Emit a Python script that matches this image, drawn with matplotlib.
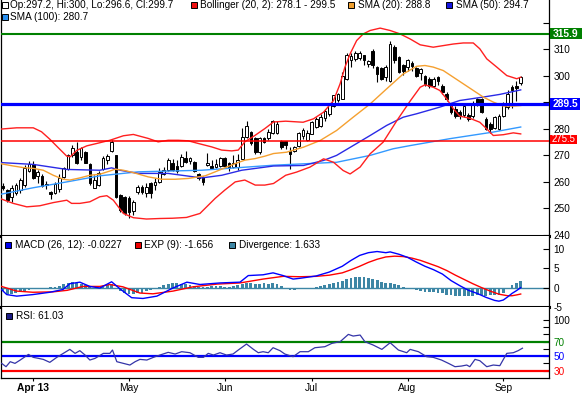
import matplotlib
matplotlib.use('Agg')
import matplotlib.pyplot as plt
from matplotlib.patches import Rectangle
import numpy as np

plt.rcParams['font.family'] = ['Liberation Sans', 'DejaVu Sans']
plt.rcParams['axes.unicode_minus'] = False

# ---------------- data (trading-day index 0 = 2013-03-20) ----------------
opens = [258.4, 256.9, 254.4, 256.0, 256.9, 258.8, 264.1, 266.6, 262.3, 262.3,
         259.2, 256.1, 256.0, 257.5, 261.9, 264.7, 270.1, 271.3, 269.5, 271.1,
         266.9, 257.8, 258.8, 264.7, 268.2, 271.6, 270.1, 255.0, 254.4, 254.1,
         249.0, 256.3, 258.2, 256.0, 259.4, 258.8, 260.0, 262.8, 264.4, 267.3,
         266.0, 266.0, 269.1, 267.8, 267.6, 262.8, 261.9, 266.3, 266.0, 265.5,
         266.0, 269.1, 267.3, 265.7, 265.7, 268.8, 277.0, 278.9, 276.6, 271.3,
         276.4, 276.4, 278.4, 278.4, 275.4, 275.4, 271.8, 271.8, 273.7, 277.5,
         275.9, 278.1, 280.6, 280.9, 284.1, 285.7, 288.8, 290.7, 291.3, 298.9,
         305.8, 306.4, 306.6, 307.7, 304.5, 309.2, 303.2, 302.9, 299.5, 298.2,
         310.8, 307.0, 303.9, 303.3, 304.9, 302.9, 301.0, 300.1, 298.9, 296.3,
         299.5, 296.3, 293.2, 288.8, 287.6, 286.3, 285.3, 285.3, 284.8, 291.1,
         291.3, 283.8, 281.9, 280.3, 280.0, 284.8, 288.2, 295.7, 296.0, 297.2]
highs = [259.5, 257.5, 258.8, 259.5, 261.5, 266.3, 267.8, 267.8, 264.4, 262.8,
         260.3, 256.5, 259.8, 262.8, 265.7, 270.4, 273.8, 275.1, 273.2, 271.6,
         267.0, 262.5, 264.1, 269.9, 270.7, 275.7, 270.1, 255.5, 254.8, 254.8,
         253.1, 258.8, 258.8, 259.4, 260.0, 261.3, 265.1, 265.7, 269.1, 268.6,
         268.2, 270.4, 271.8, 269.5, 267.8, 263.2, 262.3, 271.0, 268.2, 268.8,
         269.5, 269.5, 267.6, 270.1, 270.7, 280.4, 282.9, 279.1, 277.0, 277.0,
         277.0, 280.0, 283.4, 283.1, 275.9, 275.6, 273.1, 273.7, 278.7, 280.3,
         279.4, 282.9, 284.4, 285.7, 287.5, 289.7, 292.9, 293.4, 301.4, 308.5,
         308.5, 309.2, 309.5, 308.0, 306.0, 310.0, 303.8, 303.3, 304.0, 313.3,
         311.5, 307.5, 304.5, 306.5, 305.5, 303.5, 303.0, 300.5, 299.5, 299.5,
         300.0, 297.0, 294.0, 289.5, 288.5, 287.0, 289.5, 286.0, 290.5, 291.8,
         291.8, 284.5, 282.5, 285.0, 285.5, 290.0, 294.5, 296.5, 298.0, 300.0]
lows = [256.8, 252.5, 252.5, 255.0, 256.0, 258.0, 263.8, 261.0, 259.4, 258.0,
        257.5, 253.5, 255.5, 256.3, 261.3, 264.4, 269.5, 266.9, 268.2, 267.0,
        258.8, 257.6, 258.6, 264.4, 266.9, 271.3, 253.8, 248.8, 247.5, 246.2,
        247.7, 255.6, 255.6, 254.4, 253.8, 257.1, 259.4, 262.5, 264.1, 264.1,
        263.5, 265.7, 267.3, 266.9, 263.8, 260.7, 258.8, 266.0, 264.8, 265.3,
        265.7, 265.1, 264.1, 265.1, 264.4, 268.6, 276.4, 274.1, 270.7, 270.7,
        274.5, 275.7, 278.1, 278.1, 272.5, 272.5, 265.0, 271.2, 273.3, 276.2,
        275.6, 277.9, 280.4, 280.6, 283.1, 285.0, 288.4, 290.1, 291.1, 298.5,
        303.5, 305.7, 306.0, 304.0, 303.5, 303.0, 297.5, 298.3, 298.0, 297.5,
        305.0, 301.0, 300.5, 302.0, 302.0, 299.5, 298.5, 296.3, 295.5, 295.7,
        296.5, 293.0, 290.5, 285.5, 284.0, 283.8, 284.5, 283.0, 284.0, 288.5,
        286.0, 279.5, 278.5, 279.8, 279.5, 284.5, 287.5, 288.0, 290.5, 296.6]
closes = [257.6, 253.1, 257.8, 258.8, 260.7, 265.3, 266.6, 261.5, 263.8, 258.5,
          259.0, 255.6, 259.1, 261.5, 265.1, 270.1, 272.8, 267.3, 272.6, 267.3,
          259.7, 260.7, 263.2, 269.1, 269.7, 274.9, 254.4, 249.4, 248.1, 248.5,
          252.5, 258.2, 256.3, 257.9, 256.0, 260.0, 263.8, 264.4, 268.4, 264.4,
          264.0, 269.5, 267.6, 269.2, 264.1, 261.3, 260.0, 267.3, 265.1, 266.9,
          269.1, 266.0, 265.1, 267.3, 268.4, 277.0, 281.1, 274.5, 271.3, 276.4,
          275.1, 278.9, 282.9, 281.9, 273.1, 274.0, 270.6, 273.1, 278.4, 279.4,
          278.4, 282.5, 283.8, 284.4, 286.7, 289.2, 292.6, 293.2, 300.1, 307.7,
          307.4, 308.7, 308.7, 305.8, 305.5, 303.9, 300.7, 298.9, 303.3, 312.0,
          305.8, 301.6, 302.0, 305.8, 303.6, 300.1, 302.5, 297.0, 296.3, 298.9,
          298.2, 293.8, 291.3, 286.3, 285.0, 284.8, 288.6, 283.8, 289.4, 289.1,
          286.3, 280.0, 279.8, 284.4, 284.8, 289.1, 293.2, 294.8, 295.3, 299.7]

bb_up_x = [-0.6, 3.2, 7.0, 8.9, 10.8, 12.8, 14.7, 15.5, 17.0, 19.3, 21.6, 24.6, 27.7, 30.0,
           33.4, 35.7, 38.0, 40.3, 42.6, 44.9, 48.0, 50.3, 52.6, 54.1, 55.6, 58.0, 60.2, 62.2,
           65.0, 69.0, 71.4, 73.7, 76.0, 77.5, 78.6, 79.8, 81.3, 82.8, 84.4, 86.7, 89.0, 91.3,
           93.6, 95.9, 98.9, 101.2, 103.5, 105.8, 108.1, 109.6, 111.2, 113.5, 115.8, 118.1, 119]
bb_up_y = [279.9, 280.4, 280.4, 278.9, 276.1, 272.8, 269.7, 269.5, 271.9, 273.6, 274.5, 275.7, 277.4, 277.9,
           276.4, 275.1, 275.7, 275.7, 275.5, 274.5, 273.2, 272.0, 271.7, 272.0, 275.1, 277.6, 280.1, 282.6,
           282.9, 282.5, 283.8, 286.3, 290.7, 297.0, 303.2, 308.3, 313.3, 315.8, 317.1, 318.0, 317.1, 315.8,
           313.9, 311.7, 310.8, 311.4, 312.0, 312.4, 312.4, 310.2, 306.4, 303.3, 300.1, 298.9, 299.5]
bb_lo_x = [-0.6, 2.4, 5.5, 8.5, 11.6, 14.7, 15.8, 17.7, 20.0, 22.3, 23.9, 25.4, 27.7, 30.0, 33.0,
           36.1, 39.0, 42.2, 45.3, 48.8, 51.0, 53.4, 55.6, 58.0, 60.2, 62.2, 65.0, 67.5, 70.6, 73.7,
           76.0, 78.2, 79.8, 82.1, 84.4, 87.4, 90.5, 93.6, 95.9, 97.0, 98.9, 100.4, 102.0, 103.5,
           105.0, 107.3, 109.6, 111.2, 112.7, 115.0, 117.3, 119]
bb_lo_y = [253.7, 251.9, 250.6, 251.0, 252.2, 253.1, 251.9, 251.9, 252.5, 254.4, 254.8, 253.1, 248.1, 246.5, 246.0,
           246.2, 246.3, 246.6, 248.1, 253.8, 256.9, 260.0, 260.7, 258.8, 258.8, 259.4, 262.5, 263.7, 265.6, 268.7,
           267.4, 264.3, 263.0, 265.6, 270.6, 275.0, 283.0, 290.5, 295.7, 296.6, 295.7, 294.5, 291.3, 287.6,
           284.8, 284.0, 282.5, 280.0, 277.5, 277.8, 278.5, 278.1]
sma20_x = [-0.6, 2.4, 4.7, 7.0, 9.3, 11.6, 13.9, 15.4, 17.7, 20.0, 22.3, 24.6, 25.8, 27.7, 30.0,
           33.4, 36.5, 39.6, 42.6, 44.9, 46.5, 48.8, 51.0, 53.4, 55.6, 58.0, 60.2, 62.2, 65.2, 69.1,
           72.9, 76.7, 80.5, 84.4, 88.2, 92.0, 95.1, 97.0, 98.9, 101.2, 103.5, 105.8, 108.1, 110.4,
           112.7, 115.0, 117.3, 119]
sma20_y = [266.9, 266.0, 265.4, 265.1, 264.4, 262.5, 261.0, 260.7, 261.5, 262.5, 262.9, 264.1, 264.8, 264.4, 263.5,
           261.9, 261.0, 261.0, 261.3, 261.9, 262.3, 263.8, 265.3, 266.9, 268.2, 268.8, 269.7, 270.7, 271.2, 273.1,
           275.6, 279.4, 284.4, 289.4, 295.1, 300.7, 303.6, 303.9, 303.3, 302.0, 299.5, 297.0, 294.5, 292.0,
           290.1, 288.6, 288.6, 288.8]
sma50_x = [-0.6, 7.0, 14.7, 22.3, 25.0, 26.9, 31.1, 38.0, 45.7, 50.3, 54.9, 62.2, 69.1, 73.7, 76.7,
           80.5, 84.4, 88.2, 92.0, 95.1, 100.4, 105.0, 110.4, 114.2, 119]
sma50_y = [267.3, 266.6, 264.7, 264.4, 265.3, 264.4, 263.2, 263.2, 261.5, 262.5, 264.4, 266.0, 266.2, 268.1, 270.0,
           273.7, 277.5, 281.3, 284.4, 285.7, 288.2, 290.7, 292.0, 293.0, 294.7]
sma100_x = [-0.6, 7.0, 14.7, 22.3, 31.1, 45.7, 62.2, 76.7, 84.4, 89.7, 93.6, 102.7, 112.7, 119]
sma100_y = [255.3, 257.8, 260.0, 262.3, 263.8, 264.4, 266.3, 267.4, 270.0, 272.5, 273.7, 276.3, 278.8, 280.7]

macd_x = [-0.3, 0.9, 3.2, 6.9, 10.8, 13.8, 15.4, 17.7, 20.0, 22.3, 25.0, 26.9, 29.6, 32.2, 35.4, 39.1,
          42.3, 45.3, 49.9, 54.5, 56.4, 59.8, 62.1, 64.4, 66.7, 68.3, 72, 75, 78, 80, 82, 84, 86, 88,
          89, 91, 93, 95, 97, 99, 101, 103, 105, 107, 109, 111, 113, 114, 115, 116, 117, 118, 119]
macd_y = [-0.5, -1.8, -2.2, -1.8, -1.2, -0.5, 1.0, 1.4, 0.3, -0.1, 1.5, -0.3, -2.6, -2.8, -2.2, -0.1,
          1.4, 0.8, 1.2, 1.4, 3.1, 3.3, 3.8, 3.1, 2.2, 2.4, 3.0, 4.0, 5.5, 7.0, 8.3, 9.0, 9.3, 9.0,
          9.2, 8.6, 7.8, 6.6, 5.5, 4.6, 3.5, 1.8, 0.5, -0.7, -1.5, -2.5, -3.3, -3.5, -3.2, -2.4, -1.5, -0.8, -0.0227]
sig_x = [-0.3, 3.2, 6.9, 11.5, 14.8, 18.4, 22.3, 24.6, 27.6, 31.5, 34.5, 39.1, 43.7, 49.2, 54.5, 59.8,
         64.4, 68.3, 72, 75, 78, 80, 82, 84, 86, 88, 90, 92, 94, 96, 98, 100, 102, 104, 106, 108, 110,
         112, 114, 116, 117, 118, 119]
sig_y = [0.3, -0.9, -1.2, -1.1, -0.7, 0.3, 0.3, 0.8, 0.2, -1.4, -1.6, -0.9, 0.2, 0.9, 1.2, 2.2,
         2.9, 2.8, 2.9, 3.2, 3.8, 4.6, 5.5, 6.5, 7.3, 7.9, 8.1, 8.0, 7.6, 7.0, 6.2, 5.4, 4.4, 3.2, 2.1, 1.0, 0.0,
         -0.9, -1.7, -2.1, -2.1, -1.9, -1.656]
diverg = [-0.8, -1.6, -1.7, -1.5, -1.2, -0.8, -0.5, -0.3, -0.2, -0.1,
          0.0, 0.1, 0.2, 0.3, 0.8, 1.2, 1.4, 1.3, 1.0, 0.6,
          0.2, -0.2, -0.3, 0.1, 0.6, 0.8, -0.3, -1.0, -1.4, -1.6,
          -1.7, -1.5, -1.3, -1.0, -0.7, -0.4, 0.2, 0.6, 1.0, 1.3,
          1.2, 1.0, 0.8, 0.6, 0.4, 0.2, 0.1, 0.2, 0.3, 0.3,
          0.3, 0.2, 0.2, 0.3, 0.6, 1.0, 1.3, 1.1, 1.0, 1.0,
          1.1, 1.0, 1.1, 0.8, 0.3, -0.3, -0.6, -0.5, -0.4, -0.4,
          -0.2, 0.0, 0.1, 0.3, 0.6, 0.8, 1.1, 1.4, 1.7, 2.1,
          2.4, 2.7, 2.8, 2.7, 2.5, 2.3, 2.0, 1.5, 1.1, 1.2,
          0.8, 0.55, 0.2, 0.0, -0.4, -0.7, -1.0, -1.1, -1.2, -1.2,
          -1.4, -1.4, -1.8, -2.0, -2.1, -2.1, -2.2, -2.2, -2.1, -2.0,
          -2.0, -2.05, -2.0, -2.0, -1.8, -1.3, -0.3, 0.6, 1.1, 1.633]

rsi_x = [-0.26, 0.74, 1.7, 2.8, 4.0, 5.9, 7.0, 8.2, 9.3, 10.8, 12.4, 13.9, 15.4, 16.6, 17.7, 18.9,
         20.0, 21.2, 23.1, 24.6, 25.2, 26.2, 27.7, 29.2, 30.4, 31.5, 33.1, 34.6, 36.1, 38.0, 39.6,
         41.1, 43.0, 44.9, 46.1, 47.2, 48.4, 49.9, 51.4, 52.9, 54.1, 56.0, 57.6, 58.7, 59.8, 61.0,
         62.1, 63.7, 64.8, 66.7, 68.3, 70.2, 71.7, 74.0, 75.6, 77.5, 79.4, 80.5, 82.1, 83.2, 85.1,
         87.1, 89.0, 90.9, 92.8, 93.6, 95.5, 97.4, 98.9, 100.8, 102.4, 103.9, 105.4, 106.6, 107.3,
         108.5, 109.6, 111.2, 112.7, 114.2, 115.8, 117.3, 118.4, 119.4]
rsi_y = [40.1, 35.5, 42.4, 40.1, 44.7, 52.5, 48.4, 47.0, 45.6, 41.5, 48.4, 53.9, 59.4, 53.9, 57.6, 51.6,
         44.7, 47.0, 53.9, 53.9, 58.5, 42.4, 40.1, 37.8, 42.4, 45.6, 44.7, 48.4, 51.6, 55.3, 53.0,
         56.2, 54.8, 48.4, 48.4, 53.9, 51.6, 54.8, 51.6, 53.0, 58.5, 66.8, 59.4, 54.8, 56.2, 54.8,
         61.7, 57.6, 53.0, 49.3, 56.2, 56.2, 61.7, 63.1, 67.7, 70.0, 80.1, 77.8, 79.2, 70.0, 65.4,
         59.4, 68.6, 58.5, 54.8, 59.4, 56.2, 49.3, 48.4, 44.7, 40.1, 35.5, 36.4, 37.8, 35.5,
         45.6, 43.8, 35.5, 37.8, 36.9, 53.9, 54.8, 57.6, 61.03]

month_idx = [7, 29, 51, 71, 93, 115]
month_lbl = ['Apr 13', 'May', 'Jun', 'Jul', 'Aug', 'Sep']

levels = [315.9, 289.5, 275.5]

# ---------------- layout ----------------
W, H = 585, 393
fig = plt.figure(figsize=(W / 100, H / 100), dpi=100)
fig.patch.set_facecolor('white')


def rect(x0, y0, x1, y1):
    return [x0 / W, 1 - y1 / H, (x1 - x0) / W, (y1 - y0) / H]


ax1 = fig.add_axes(rect(0.5, 0, 549, 236))
ax2 = fig.add_axes(rect(0.5, 236, 549, 307))
ax3 = fig.add_axes(rect(0.5, 307, 549, 378))

XL = (-0.53, 125.5)
FS = 7.2
for ax in (ax1, ax2, ax3):
    ax.set_xlim(*XL)
    ax.yaxis.tick_right()
    ax.tick_params(axis='y', direction='in', length=4, width=0.8, labelsize=FS, pad=3)
    ax.tick_params(axis='x', bottom=False, labelbottom=False)
    for s in ax.spines.values():
        s.set_linewidth(0.9)
    ax.spines['top'].set_visible(False)

ax1.spines['bottom'].set_linewidth(2.2)
ax2.spines['bottom'].set_linewidth(2.2)

# ---- main price panel ----
ax1.set_ylim(239.6, 328.6)
n = len(closes)
idx = np.arange(n)
o = np.array(opens); c = np.array(closes); hi = np.array(highs); lo = np.array(lows)
ax1.vlines(idx, lo, hi, color='black', lw=0.8, zorder=2)
up = c >= o
bw = 0.62
ax1.bar(idx[up], (c - o)[up], bottom=o[up], width=bw, facecolor='white',
        edgecolor='black', linewidth=0.7, zorder=3)
ax1.bar(idx[~up], (o - c)[~up], bottom=c[~up], width=bw, facecolor='black',
        edgecolor='black', linewidth=0.7, zorder=3)

ax1.plot(sma100_x, sma100_y, color='#3399ff', lw=1.0, zorder=4)
ax1.plot(sma50_x, sma50_y, color='#2a2ae6', lw=1.0, zorder=4)
ax1.plot(sma20_x, sma20_y, color='#f5a030', lw=1.0, zorder=4)
ax1.plot(bb_up_x, bb_up_y, color='#ff2020', lw=1.0, zorder=4)
ax1.plot(bb_lo_x, bb_lo_y, color='#ff2020', lw=1.0, zorder=4)

ax1.axhline(levels[0], color='#008000', lw=1.5, zorder=5)
ax1.axhline(levels[1], color='#0000ff', lw=2.3, zorder=5)
ax1.axhline(levels[2], color='#ff0000', lw=1.1, zorder=5)

ax1.set_yticks([240, 250, 260, 270, 280, 290, 300, 310, 320])
ax1.set_yticklabels(['240', '250', '260', '270', '280', '', '300', '310', ''])

# ---- MACD panel ----
ax2.set_ylim(-4.87, 13.3)
ax2.axhline(0, color='#3d86a5', lw=1.0, zorder=1)
ax2.bar(idx, diverg, width=0.65, color='#3d86a5', zorder=2)
ax2.plot(sig_x, sig_y, color='#ff0000', lw=1.0, zorder=3)
ax2.plot(macd_x, macd_y, color='#0000ff', lw=1.0, zorder=3)
ax2.set_yticks([-5, 0, 5, 10])
ax2.set_yticklabels(['-5', '0', '5', '10'])

# ---- RSI panel ----
ax3.set_ylim(19.9, 117.9)
ax3.axhline(70, color='#008000', lw=1.6)
ax3.axhline(50, color='#0000ff', lw=1.6)
ax3.axhline(30, color='#ff0000', lw=1.6)
ax3.plot(rsi_x, rsi_y, color='#3434a8', lw=0.9, zorder=3)
ax3.set_yticks([30, 40, 50, 60, 70, 80, 90, 100])
ax3.set_yticklabels(['30', '', '50', '', '70', '', '', '100'])
tl = ax3.get_yticklabels()
tl[0].set_color('#ff0000'); tl[2].set_color('#0000ff'); tl[4].set_color('#008000')
ax3.set_xticks(month_idx)
ax3.set_xticklabels(month_lbl)
ax3.tick_params(axis='x', bottom=True, labelbottom=True, direction='out', length=2.5,
                width=0.8, labelsize=FS + 0.2, pad=0.8)
ax3.get_xticklabels()[0].set_fontweight('bold')


# ---------------- legends & price boxes ----------------
def ftext(x, y, s, **kw):
    kw.setdefault('fontsize', FS)
    fig.text(x / W, 1 - y / H, s, va='center', ha='left', **kw)


def fsq(x, y, w, h, col, ec='black', z=4):
    fig.add_artist(Rectangle((x / W, 1 - (y + h) / H), w / W, h / H,
                             transform=fig.transFigure, facecolor=col,
                             edgecolor=ec, lw=0.7, zorder=z))


fsq(1.5, 2, 6, 6, 'white'); ftext(10, 5.3, 'Op:297.2, Hi:300, Lo:296.6, Cl:299.7')
fsq(190.7, 2, 6, 6, '#ee1111'); ftext(200, 5.3, 'Bollinger (20, 2): 278.1 - 299.5')
fsq(348.3, 2, 6, 6, '#f0a030'); ftext(357.5, 5.3, 'SMA (20): 288.8')
fsq(445.7, 2, 6, 6, '#1515e0'); ftext(455.5, 5.3, 'SMA (50): 294.7')
fsq(1.5, 14, 6, 6, '#2a90f0'); ftext(10, 17.3, 'SMA (100): 280.7')

fsq(5, 241.7, 6, 6, '#0000ee'); ftext(15, 244.8, 'MACD (26, 12): -0.0227')
fsq(135, 241.7, 6, 6, '#ee0000'); ftext(144.3, 244.8, 'EXP (9): -1.656')
fsq(229.3, 241.7, 6, 6, '#3d86a5'); ftext(239, 244.8, 'Divergence: 1.633')

fsq(6, 312.7, 6, 6, '#1c1c84'); ftext(16, 315.8, 'RSI: 61.03')


def price_box(val, x1, y0, y1, col, bold, fs):
    fsq(550, y0, x1 - 550, y1 - y0, col, ec='none', z=6)
    fig.text((550 + x1) / 2 / W, 1 - ((y0 + y1) / 2 + 0.3) / H, f'{val}', color='white',
             fontsize=fs, fontweight='bold' if bold else 'normal',
             ha='center', va='center', zorder=7)


def ypix(v):
    return 235 - (v - 240) * 2.653


price_box(levels[0], 582, ypix(levels[0]) - 5.5, ypix(levels[0]) + 5.5, '#008000', True, FS + 0.2)
price_box(levels[1], 580, ypix(levels[1]) - 6, ypix(levels[1]) + 6, '#0000ff', True, FS + 0.2)
price_box(levels[2], 577, ypix(levels[2]) - 6.3, ypix(levels[2]) + 2.7, '#ff0000', False, FS - 0.3)

fig.savefig('out.png', dpi=100, facecolor='white')
